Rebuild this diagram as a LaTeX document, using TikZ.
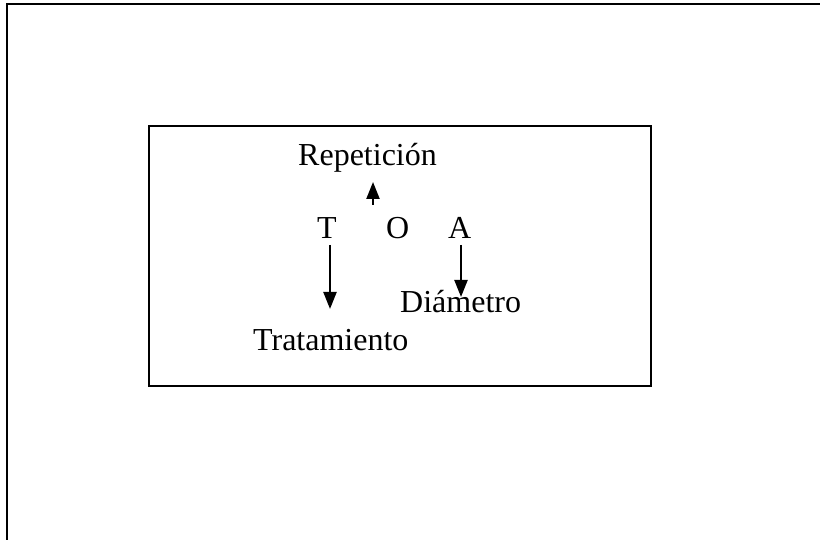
\documentclass[tikz,border=0pt]{standalone}
\usepackage{fontspec}
\setmainfont{Liberation Serif}
\usetikzlibrary{arrows.meta}
\begin{document}
\begin{tikzpicture}[x=1pt,y=1pt,
  lbl/.style={inner sep=0pt,anchor=base west,font=\fontsize{32}{36}\selectfont},
  frame/.style={line width=2.2pt},
  arr/.style={line width=2.2pt,-{Triangle[width=13pt,length=17pt]}}]
\useasboundingbox (0,0) rectangle (820,540);
% outer frame (only top and left edges visible)
\draw[frame] (7,0) -- (7,536) -- (820,536);
% inner box
\node[draw,line width=2pt,minimum width=502pt,minimum height=260pt,inner sep=0pt] (box) at (400,284) {};
% labels
\node[lbl] (rep) at (298,374) {Repetición};
\node[lbl] (T) at (317,301) {T};
\node[lbl] (O) at (386,301) {O};
\node[lbl] (A) at (448,301) {A};
\node[lbl] (dia) at (400,227) {Diámetro};
\node[lbl] (tra) at (253,189) {Tratamiento};
% arrow end points
\coordinate (o1) at (373,335);
\coordinate (o2) at (373,358);
\coordinate (t1) at (330,295);
\coordinate (t2) at (330,231);
\coordinate (a1) at (461,295);
\coordinate (a2) at (461,243);
\draw[arr] (o1) -- (o2);
\draw[arr] (t1) -- (t2);
\draw[arr] (a1) -- (a2);
\end{tikzpicture}
\end{document}
